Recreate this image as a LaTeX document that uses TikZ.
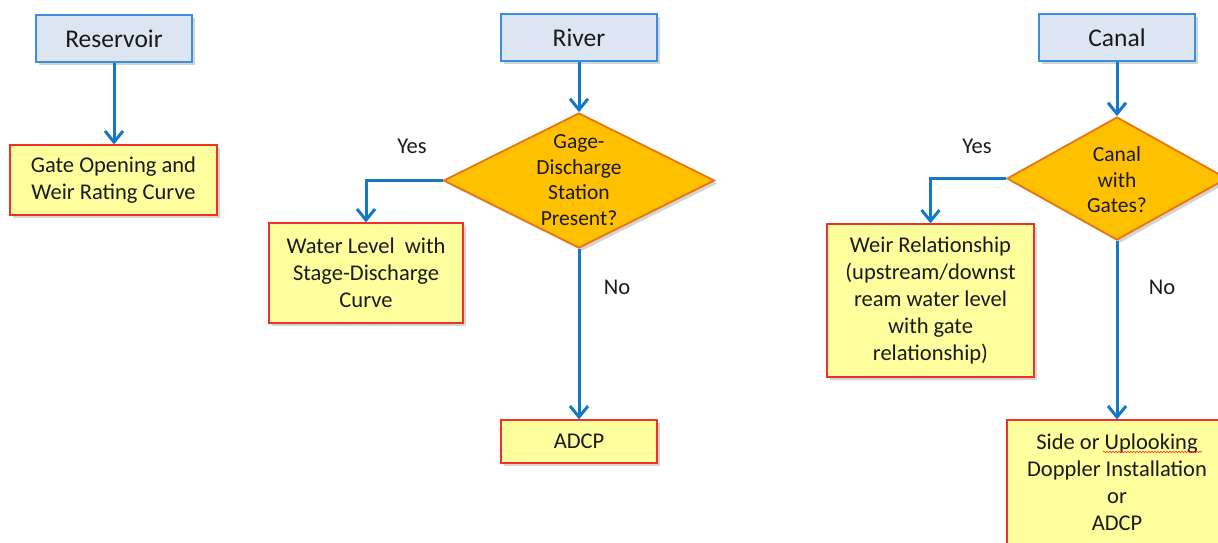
\documentclass[tikz,border=0pt]{standalone}
\usepackage{fontspec}
\setmainfont{Carlito}
\usetikzlibrary{arrows.meta,shapes.geometric,shadows,decorations.pathmorphing}
\definecolor{hdrfill}{HTML}{DCE6F2}
\definecolor{hdrline}{HTML}{3F8FD8}
\definecolor{boxfill}{HTML}{FFFF9E}
\definecolor{boxline}{HTML}{F0302C}
\definecolor{decfill}{HTML}{FFC000}
\definecolor{decline}{HTML}{E8750F}
\definecolor{arrcol}{HTML}{1479C4}
\definecolor{txt}{HTML}{1A1A1A}
\begin{document}
\begin{tikzpicture}[x=1pt,y=-1pt,
 shad/.style={drop shadow={shadow xshift=3pt,shadow yshift=-3pt,opacity=0.28,fill=black!60}},
 hdr/.style={draw=hdrline,fill=hdrfill,line width=1.2pt,minimum width=156pt,minimum height=47pt,inner sep=0pt,font=\fontsize{25.5}{30}\selectfont,text=txt,shad},
 res/.style={draw=boxline,fill=boxfill,line width=1.2pt,inner sep=0pt,align=center,font=\fontsize{22.5}{27}\selectfont,text=txt,shad},
 dec/.style={diamond,draw=decline,fill=decfill,line width=1.8pt,inner sep=0pt,shad},
 dtext/.style={align=center,font=\fontsize{21.5}{25.5}\selectfont,text=txt,inner sep=0pt},
 lbl/.style={font=\fontsize{22.5}{27}\selectfont,text=txt,inner sep=0pt},
 arr/.style={draw=arrcol,line width=3pt,-{Straight Barb[length=11pt,width=18pt,line width=3pt]}},
]
\useasboundingbox (0,0) rectangle (1218,543);
\clip (0,0) rectangle (1218,543);

% Reservoir column
\node[hdr] (reservoir) at (114,38.5) {Reservoir};
\node[res,minimum width=207pt,minimum height=70pt] (gate) at (113.5,180) {Gate Opening and\\Weir Rating Curve};

% River column
\node[hdr] (river) at (579,37.5) {River};
\node[dec,minimum width=271pt,minimum height=135pt] (d1) at (579,180.5) {};
\node[dtext] (d1t) at (579,180) {Gage-\\Discharge\\Station\\Present?};
\node[res,minimum width=194pt,minimum height=100pt] (wl) at (366,273) {Water Level\ \ with\\Stage-Discharge\\Curve};
\node[res,minimum width=156pt,minimum height=43pt] (adcp) at (579,441.5) {ADCP};
\node[lbl] (yes1) at (412,146) {Yes};
\node[lbl] (no1) at (617,287) {No};

% Canal column
\node[hdr] (canal) at (1117,37.5) {Canal};
\node[dec,minimum width=220pt,minimum height=123pt] (d2) at (1117,178.5) {};
\node[dtext] (d2t) at (1117,180) {Canal\\with\\Gates?};
\node[res,minimum width=207pt,minimum height=153pt] (weir) at (930.5,300.5) {Weir Relationship\\(upstream/downst\\ream water level\\with gate\\relationship)};
\node[res,minimum width=220pt,minimum height=125pt] (side) at (1117,482.5) {Side or Uplooking\\Doppler Installation\\or\\ADCP};
\node[lbl] (yes2) at (977,146) {Yes};
\node[lbl] (no2) at (1162,287) {No};
\draw[boxline,line width=0.6pt,decorate,decoration={snake,amplitude=0.8pt,segment length=3pt}] (1103,452) -- (1202,452);

% Connectors
\draw[arr] (reservoir.south) -- (reservoir.south |- gate.north);
\draw[arr] (river.south) -- (d1.north);
\draw[arr] (d1.west) -| (wl.north);
\draw[arr] (d1.south) -- (adcp.north);
\draw[arr] (canal.south) -- (d2.north);
\draw[arr] (d2.west) -| (weir.north);
\draw[arr] (d2.south) -- (side.north);
\end{tikzpicture}
\end{document}
